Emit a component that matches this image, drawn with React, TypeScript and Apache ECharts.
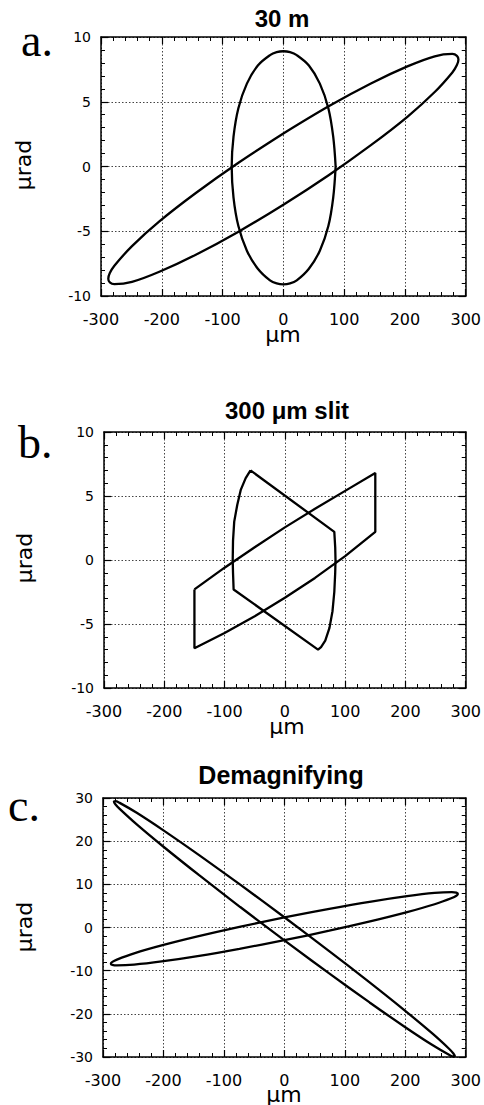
import React, { useEffect, useRef } from "react";
import * as echarts from "echarts";

// ---- axis ranges / ticks ----
const xMin = -300;
const xMax = 300;
const xStep = 100;
const yMinAB = -10;
const yMaxAB = 10;
const yStepAB = 5;
const yMinC = -30;
const yMaxC = 30;
const yStepC = 10;

const titles = ["30 m", "300 \u03bcm slit", "Demagnifying"];
const panelLetters = ["a.", "b.", "c."];
const xName = "\u03bcm";
const yName = "\u03bcrad";

// ---- panel a: upright ellipse (closed loop, starts on its flat side) ----
const aUpright: [number, number][] = [
  [86, 0], [82, -2.4], [74, -4.6], [60, -6.5], [42, -7.9], [22, -8.8], [11, -9.03], [0, -9.1],
  [-11, -9.03], [-22, -8.8], [-42, -7.9], [-60, -6.5], [-74, -4.6], [-82, -2.4], [-85, 0],
  [-82, 2.3], [-74, 4.5], [-60, 6.4], [-42, 7.8], [-22, 8.6], [-11, 8.83], [0, 8.9],
  [11, 8.83], [22, 8.6], [42, 7.8], [60, 6.4], [74, 4.5], [82, 2.3], [86, 0],
];

// ---- panel a: tilted ellipse ----
const aTilted: [number, number][] = [
  [0, 2.55], [-74.5, 0.27], [-144, -2.05], [-204, -4.24], [-249, -6.15],
  [-278, -7.66], [-285.5, -8.23], [-288, -8.66], [-285.5, -8.95], [-278, -9.09],
  [-249, -8.91], [-204, -8.13], [-144, -6.81], [-74.5, -5.05], [0, -2.95], [74.5, -0.67],
  [144, 1.65], [204, 3.84], [249, 5.75], [278, 7.26], [285.5, 7.83], [288, 8.26],
  [285.5, 8.55], [278, 8.69], [249, 8.51], [204, 7.73], [144, 6.41], [74.5, 4.65], [0, 2.55],
];

// ---- panel b: clipped tilted band ----
const bBand: [number, number][] = [
  [-150, -2.3], [-100, -0.6], [-50, 1.0], [0, 2.55], [50, 4.0], [100, 5.4], [150, 6.8],
  [150, 2.2], [100, 0.3], [50, -1.4], [0, -2.95], [-50, -4.4], [-100, -5.7], [-150, -6.9],
  [-150, -2.3],
];

// ---- panel b: clipped upright shape ----
const bHex: [number, number][] = [
  [-57, 7.0], [82, 2.2], [83.5, 1], [84, 0], [83.5, -1], [82, -2.5], [79, -4],
  [74, -5.3], [67, -6.3], [60, -6.8], [55, -7.0], [-85, -2.3], [-86, -1], [-86.5, 0],
  [-86, 1.5], [-84, 3], [-79, 4.3], [-73, 5.5], [-65, 6.4], [-57, 7.0],
];

// ---- panel c: flat ellipse ----
const cFlat: [number, number][] = [
  [0, 2.33], [-74.3, 0.14], [-143.5, -2.07], [-203, -4.16], [-248.5, -5.99],
  [-277, -7.43], [-284.5, -7.97], [-287, -8.38], [-284.5, -8.66], [-277, -8.79],
  [-248.5, -8.61], [-203, -7.87], [-143.5, -6.62], [-74.3, -4.93], [0, -2.93], [74.3, -0.74],
  [143.5, 1.47], [203, 3.56], [248.5, 5.39], [277, 6.83], [284.5, 7.37], [287, 7.78],
  [284.5, 8.06], [277, 8.19], [248.5, 8.01], [203, 7.27], [143.5, 6.02], [74.3, 4.33], [0, 2.33],
];

// ---- panel c: steep ellipse ----
const cSteep: [number, number][] = [
  [0, -2.98], [-73, 4.74], [-141, 12.12], [-199.4, 18.65],
  [-244.2, 23.89], [-272.4, 27.48], [-279.6, 28.57], [-282, 29.18], [-279.6, 29.28],
  [-272.4, 28.87], [-244.2, 26.57], [-199.4, 22.44], [-141, 16.76], [-73, 9.92],
  [0, 2.38], [73, -5.34], [141, -12.72], [199.4, -19.25], [244.2, -24.49],
  [272.4, -28.08], [279.6, -29.17], [282, -29.78], [279.6, -29.88], [272.4, -29.47],
  [244.2, -27.17], [199.4, -23.04], [141, -17.36], [73, -10.52], [0, -2.98],
];

const FONT = "DejaVu Sans";

const grids = [
  { left: 101, top: 37, width: 366, height: 259 },
  { left: 104, top: 432, width: 366, height: 256 },
  { left: 103, top: 798, width: 365, height: 259 },
];

function xAxisFor(gridIndex: number, position: "bottom" | "top") {
  const main = position === "bottom";
  return {
    type: "value",
    gridIndex,
    position,
    min: xMin,
    max: xMax,
    interval: xStep,
    axisLine: { show: true, onZero: false, lineStyle: { color: "#000", width: 1.5 } },
    axisTick: { show: true, inside: true, length: 7, lineStyle: { color: "#000", width: 1.2 } },
    minorTick: { show: true, splitNumber: 5, length: 4, lineStyle: { color: "#000", width: 1 } },
    axisLabel: { show: main, margin: 15, fontFamily: FONT, fontSize: 16, color: "#000" },
    splitLine: { show: main, lineStyle: { color: "#444", width: 1, type: [1.5, 2] } },
    minorSplitLine: { show: false },
  };
}

function yAxisFor(gridIndex: number, position: "left" | "right", min: number, max: number, step: number) {
  const main = position === "left";
  return {
    type: "value",
    gridIndex,
    position,
    min,
    max,
    interval: step,
    axisLine: { show: true, onZero: false, lineStyle: { color: "#000", width: 1.5 } },
    axisTick: { show: true, inside: true, length: 7, lineStyle: { color: "#000", width: 1.2 } },
    minorTick: { show: true, splitNumber: 5, length: 4, lineStyle: { color: "#000", width: 1 } },
    axisLabel: { show: main, margin: 10, fontFamily: FONT, fontSize: 14, color: "#000" },
    splitLine: { show: main, lineStyle: { color: "#444", width: 1, type: [1.5, 2] } },
    minorSplitLine: { show: false },
  };
}

function curve(data: [number, number][], panel: number, smooth: boolean) {
  return {
    type: "line",
    xAxisIndex: panel * 2,
    yAxisIndex: panel * 2,
    data,
    smooth: smooth ? 0.35 : false,
    symbol: "none",
    showSymbol: false,
    lineStyle: { color: "#000", width: 2.3 },
    silent: true,
  };
}

const titlePos = [
  [282, 18],
  [287, 410],
  [281, 775],
];
const titleSize = [24, 24, 25];
const letterPos = [
  [21, 40],
  [18, 442],
  [8, 805],
];
const yNamePos = [
  [23, 165],
  [24, 558],
  [24, 927],
];
const xNamePos = [
  [283, 334],
  [287, 726],
  [284, 1094],
];

export default function App() {
  const ref = useRef<HTMLDivElement>(null);

  useEffect(() => {
    if (!ref.current) return;
    const chart = echarts.init(ref.current, undefined, { renderer: "svg" });

    const graphic: any[] = [];
    for (let i = 0; i < 3; i++) {
      graphic.push({
        type: "text",
        x: titlePos[i][0],
        y: titlePos[i][1],
        style: {
          text: titles[i],
          fill: "#000",
          fontFamily: "Liberation Sans",
          fontWeight: "bold",
          fontSize: titleSize[i],
          align: "center",
          verticalAlign: "middle",
        },
      });
      graphic.push({
        type: "text",
        x: letterPos[i][0],
        y: letterPos[i][1],
        style: {
          text: panelLetters[i],
          fill: "#000",
          fontFamily: "Liberation Serif",
          fontSize: 46,
          align: "left",
          verticalAlign: "middle",
        },
      });
      graphic.push({
        type: "text",
        x: yNamePos[i][0],
        y: yNamePos[i][1],
        rotation: Math.PI / 2,
        style: {
          text: yName,
          fill: "#000",
          fontFamily: FONT,
          fontSize: 22,
          align: "center",
          verticalAlign: "middle",
        },
      });
      graphic.push({
        type: "text",
        x: xNamePos[i][0],
        y: xNamePos[i][1],
        style: {
          text: xName,
          fill: "#000",
          fontFamily: FONT,
          fontSize: 22,
          align: "center",
          verticalAlign: "middle",
        },
      });
    }

    chart.setOption({
      animation: false,
      backgroundColor: "#fff",
      grid: grids.map((g) => ({ ...g, containLabel: false })),
      xAxis: [
        xAxisFor(0, "bottom"), xAxisFor(0, "top"),
        xAxisFor(1, "bottom"), xAxisFor(1, "top"),
        xAxisFor(2, "bottom"), xAxisFor(2, "top"),
      ],
      yAxis: [
        yAxisFor(0, "left", yMinAB, yMaxAB, yStepAB), yAxisFor(0, "right", yMinAB, yMaxAB, yStepAB),
        yAxisFor(1, "left", yMinAB, yMaxAB, yStepAB), yAxisFor(1, "right", yMinAB, yMaxAB, yStepAB),
        yAxisFor(2, "left", yMinC, yMaxC, yStepC), yAxisFor(2, "right", yMinC, yMaxC, yStepC),
      ],
      series: [
        curve(aUpright, 0, true),
        curve(aTilted, 0, true),
        curve(bBand, 1, false),
        curve(bHex, 1, false),
        curve(cFlat, 2, true),
        curve(cSteep, 2, true),
      ],
      graphic,
    });

    return () => chart.dispose();
  }, []);

  return (
    <div
      ref={ref}
      style={{ position: "absolute", left: 0, top: 0, width: 484, height: 1105, background: "#fff" }}
    />
  );
}
